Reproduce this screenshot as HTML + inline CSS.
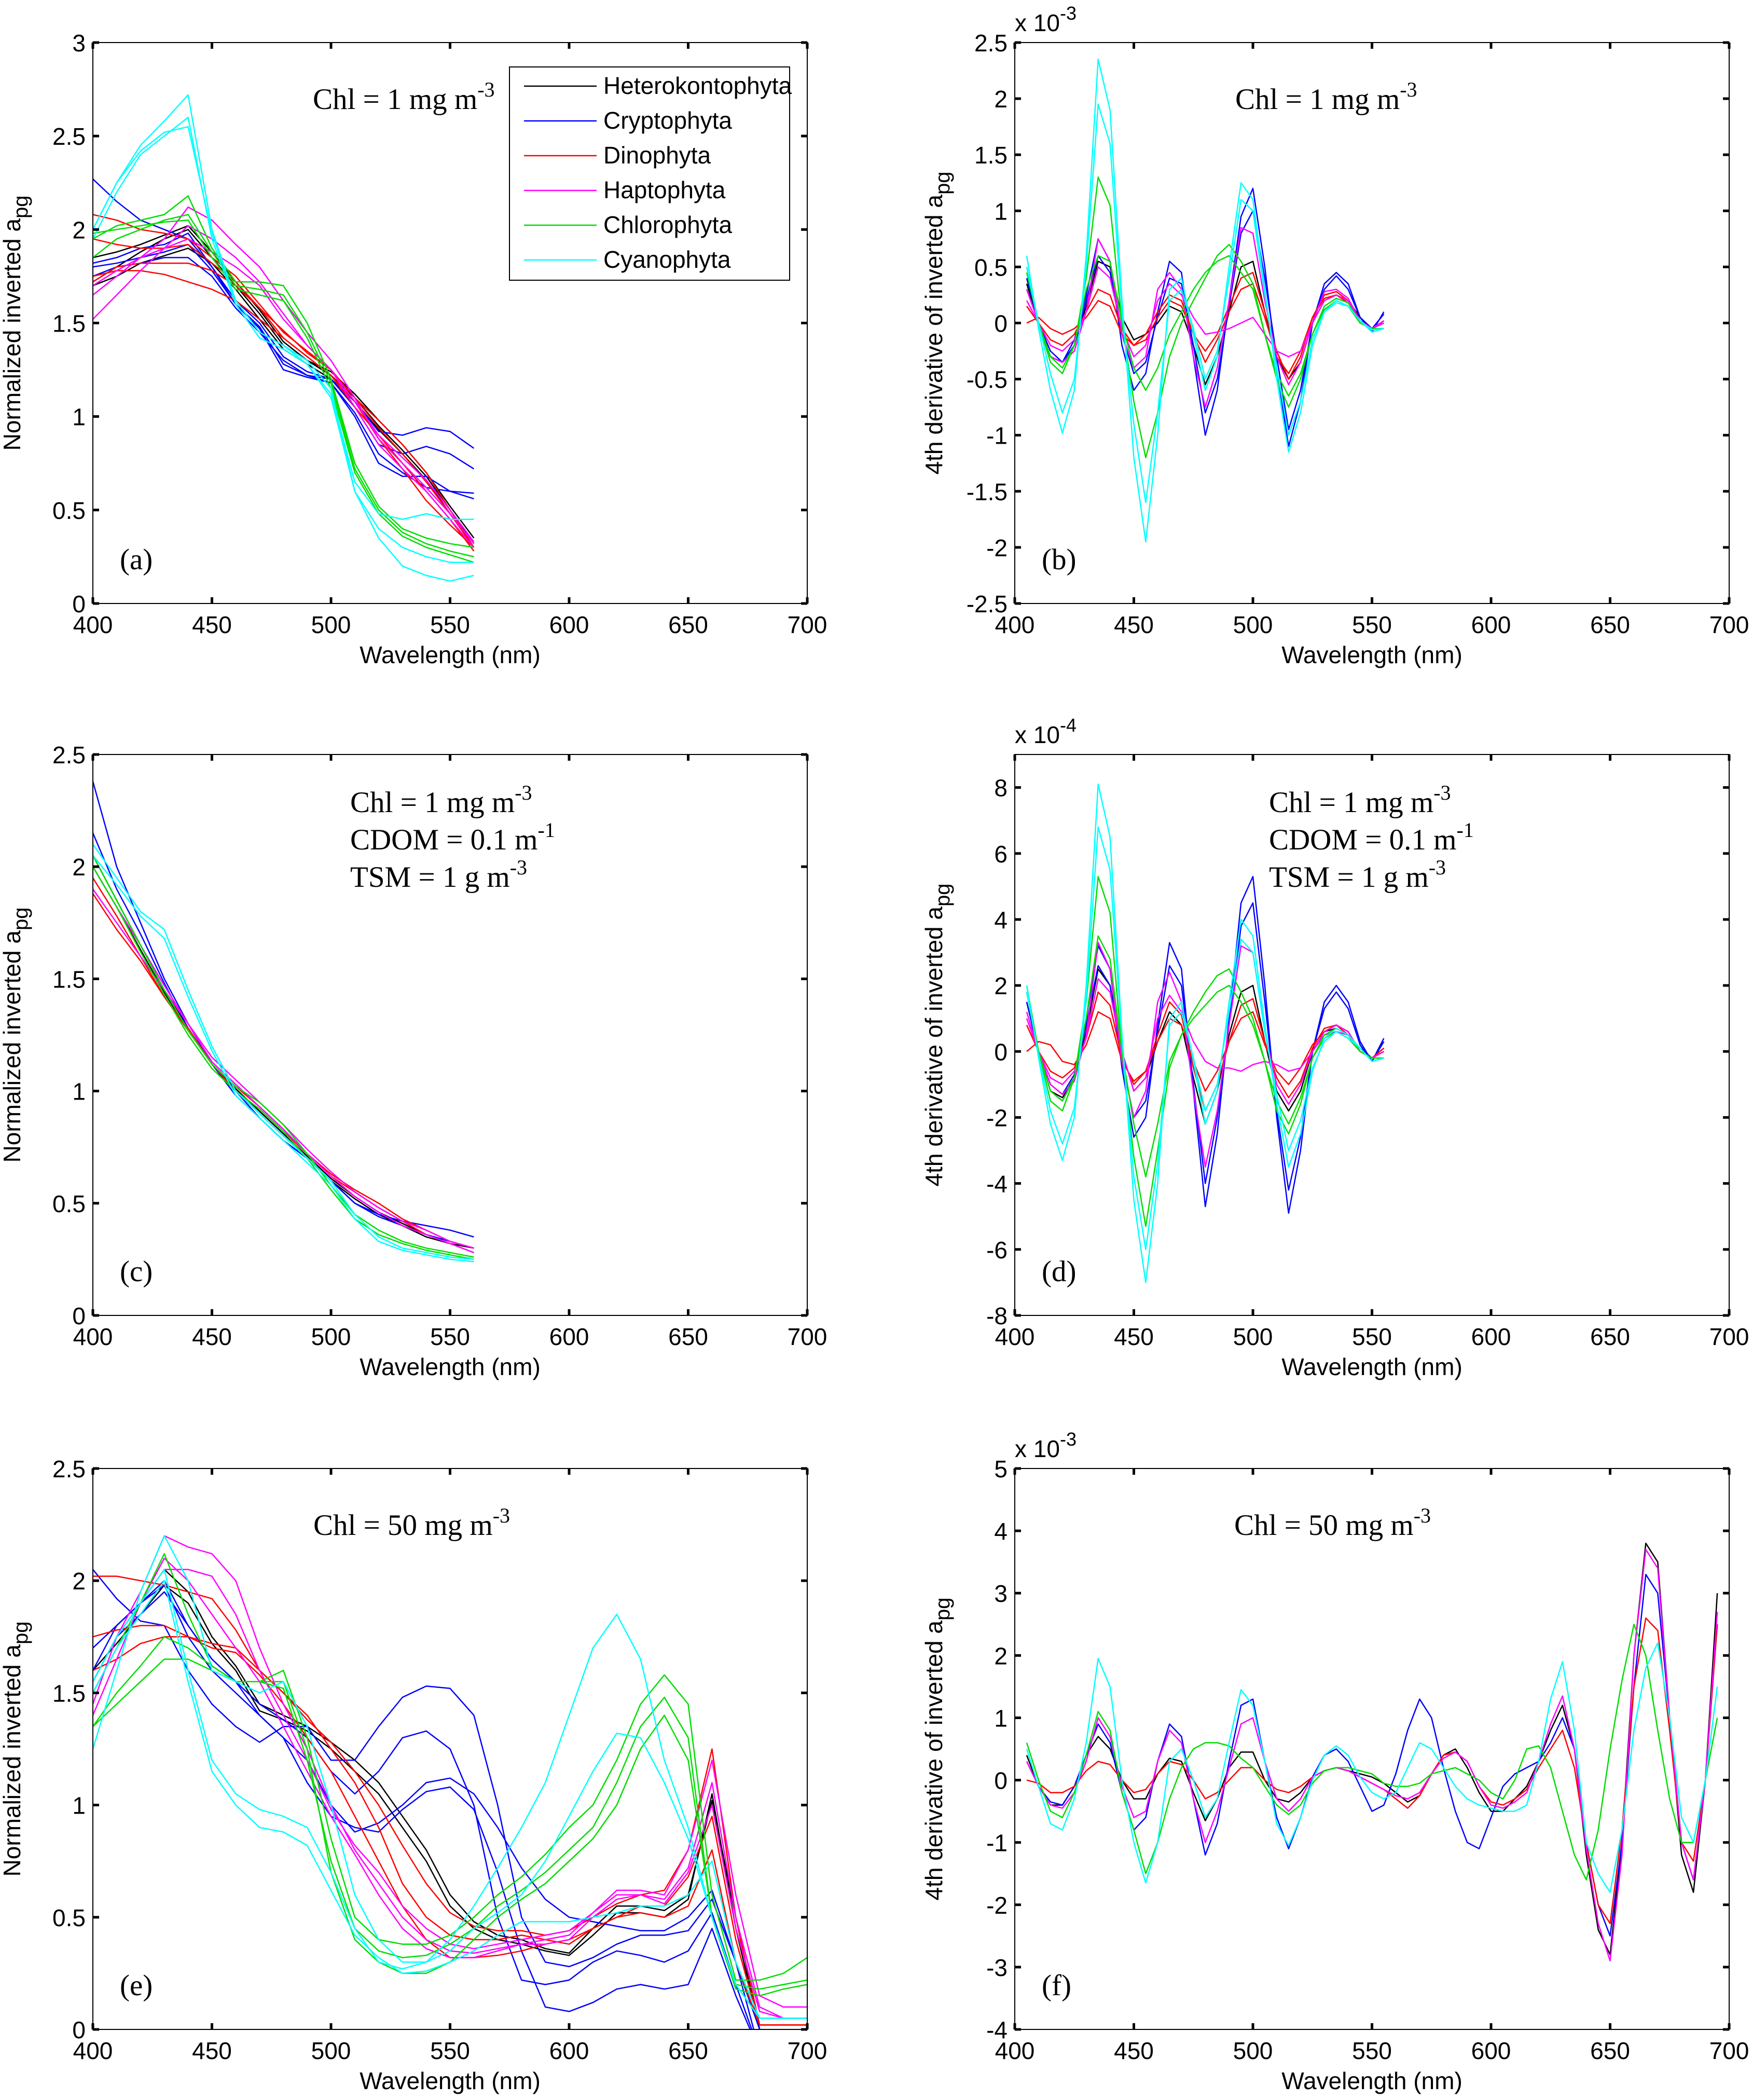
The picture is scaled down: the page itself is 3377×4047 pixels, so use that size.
<!DOCTYPE html>
<html><head><meta charset="utf-8">
<style>
html,body{margin:0;padding:0;background:#fff;}
svg{display:block;}
.tk{font-family:"Liberation Sans",Arial,sans-serif;font-size:46px;fill:#000;}
.tm{font-family:"Liberation Serif","Times New Roman",serif;font-size:57px;fill:#000;}
</style></head>
<body>
<svg id="fig" width="3377" height="4047" viewBox="0 0 3377 4047" xmlns="http://www.w3.org/2000/svg"></svg>
<script>
// ---------- data ----------
const colors = ['#000000','#0000ff','#ff0000','#ff00ff','#00dd00','#00ffff'];
const groups = ['Heterokontophyta','Cryptophyta','Dinophyta','Haptophyta','Chlorophyta','Cyanophyta'];

const wlA = [400,410,420,430,440,450,460,470,480,490,500,510,520,530,540,550,560];
const aBlack = [[1.72,1.8,1.88,1.95,2.0,1.85,1.7,1.55,1.38,1.3,1.22,1.1,0.95,0.82,0.68,0.5,0.32],[1.85,1.88,1.92,1.97,2.02,1.88,1.72,1.57,1.4,1.3,1.24,1.12,0.98,0.85,0.7,0.52,0.35],[1.7,1.75,1.82,1.86,1.9,1.82,1.68,1.52,1.36,1.28,1.2,1.08,0.93,0.8,0.66,0.48,0.3]];
const aBlue = [[2.27,2.15,2.05,2.0,1.95,1.8,1.62,1.5,1.32,1.24,1.2,1.08,0.92,0.9,0.94,0.92,0.83],[1.8,1.82,1.85,1.88,1.92,1.78,1.6,1.48,1.28,1.22,1.2,1.05,0.85,0.8,0.84,0.8,0.72],[1.75,1.8,1.82,1.85,1.85,1.75,1.58,1.45,1.3,1.22,1.18,1.02,0.8,0.7,0.62,0.6,0.59],[1.82,1.85,1.9,1.92,1.98,1.8,1.6,1.47,1.25,1.21,1.18,1.0,0.75,0.68,0.68,0.6,0.56]];
const aRed = [[2.08,2.05,2.0,1.98,1.95,1.85,1.75,1.6,1.45,1.35,1.25,1.1,0.98,0.85,0.7,0.5,0.3],[1.95,1.92,1.9,1.9,1.92,1.82,1.72,1.58,1.42,1.32,1.22,1.05,0.9,0.75,0.6,0.45,0.28],[1.75,1.78,1.78,1.76,1.72,1.68,1.62,1.52,1.42,1.32,1.22,1.08,0.88,0.72,0.55,0.42,0.3],[1.72,1.8,1.82,1.82,1.82,1.78,1.7,1.58,1.46,1.34,1.25,1.1,0.94,0.8,0.65,0.48,0.3]];
const aMag = [[1.52,1.65,1.78,1.9,2.02,1.95,1.85,1.72,1.55,1.38,1.25,1.05,0.85,0.72,0.6,0.45,0.3],[1.65,1.75,1.85,1.95,2.12,2.05,1.92,1.8,1.62,1.45,1.3,1.1,0.88,0.75,0.62,0.48,0.32],[1.7,1.78,1.85,1.9,1.95,1.88,1.8,1.7,1.52,1.38,1.25,1.08,0.9,0.78,0.66,0.5,0.33]];
const aGreen = [[1.95,2.02,2.05,2.08,2.18,1.9,1.72,1.72,1.7,1.5,1.2,0.75,0.52,0.4,0.35,0.32,0.3],[1.85,1.95,2.0,2.05,2.08,1.88,1.7,1.68,1.65,1.45,1.18,0.72,0.5,0.38,0.32,0.28,0.25],[1.98,2.0,2.02,2.04,2.05,1.85,1.68,1.65,1.62,1.42,1.15,0.7,0.48,0.36,0.3,0.26,0.22]];
const aCyan = [[2.0,2.25,2.45,2.58,2.72,2.0,1.62,1.45,1.38,1.3,1.15,0.6,0.35,0.2,0.15,0.12,0.15],[1.95,2.2,2.4,2.5,2.6,1.95,1.6,1.42,1.36,1.28,1.1,0.6,0.4,0.3,0.25,0.22,0.22],[2.0,2.25,2.42,2.52,2.55,1.98,1.62,1.45,1.38,1.28,1.12,0.65,0.48,0.45,0.48,0.45,0.45]];

const cBlack = [[2.05,1.85,1.65,1.45,1.28,1.12,1.0,0.9,0.8,0.7,0.6,0.52,0.45,0.4,0.35,0.32,0.3],[2.0,1.82,1.63,1.44,1.27,1.12,1.01,0.91,0.81,0.71,0.61,0.53,0.46,0.41,0.36,0.33,0.3]];
const cBlue = [[2.38,2.0,1.75,1.5,1.3,1.12,1.0,0.88,0.78,0.7,0.6,0.5,0.45,0.42,0.4,0.38,0.35],[2.15,1.9,1.7,1.48,1.28,1.12,0.98,0.88,0.78,0.7,0.6,0.5,0.44,0.4,0.36,0.33,0.3]];
const cRed = [[1.95,1.78,1.6,1.42,1.27,1.12,1.0,0.92,0.82,0.72,0.62,0.55,0.48,0.42,0.36,0.32,0.28],[1.88,1.72,1.58,1.42,1.28,1.12,1.02,0.93,0.83,0.72,0.63,0.56,0.5,0.43,0.38,0.33,0.3]];
const cMag = [[1.9,1.75,1.6,1.45,1.3,1.15,1.05,0.95,0.85,0.74,0.64,0.55,0.48,0.42,0.38,0.33,0.3],[2.0,1.82,1.65,1.47,1.3,1.13,1.03,0.93,0.83,0.72,0.62,0.53,0.46,0.4,0.36,0.32,0.28]];
const cGreen = [[2.05,1.85,1.65,1.45,1.27,1.12,1.02,0.95,0.85,0.72,0.58,0.45,0.38,0.33,0.3,0.28,0.26],[2.0,1.82,1.62,1.43,1.25,1.1,1.0,0.92,0.82,0.7,0.56,0.43,0.36,0.32,0.29,0.27,0.25]];
const cCyan = [[2.1,1.95,1.8,1.72,1.45,1.2,1.0,0.9,0.8,0.7,0.6,0.45,0.35,0.3,0.28,0.26,0.25],[2.05,1.92,1.78,1.68,1.42,1.18,0.98,0.88,0.78,0.68,0.58,0.43,0.33,0.29,0.27,0.25,0.24]];

const wlE = [400,410,420,430,440,450,460,470,480,490,500,510,520,530,540,550,560,570,580,590,600,610,620,630,640,650,660,670,680,690,700];
const eBlack = [[1.55,1.75,1.9,2.05,1.95,1.75,1.62,1.45,1.4,1.35,1.28,1.2,1.1,0.95,0.8,0.6,0.48,0.42,0.4,0.36,0.34,0.45,0.55,0.55,0.53,0.6,1.02,0.5,0.0,-0.1,-0.1],[1.6,1.72,1.85,1.98,1.9,1.72,1.6,1.42,1.38,1.33,1.25,1.15,1.05,0.9,0.75,0.55,0.45,0.4,0.38,0.35,0.33,0.42,0.52,0.52,0.5,0.58,1.05,0.45,0.0,-0.1,-0.1]];
const eBlue = [[2.05,1.92,1.82,1.8,1.6,1.45,1.35,1.28,1.35,1.35,1.2,1.2,1.35,1.48,1.53,1.52,1.4,1.0,0.5,0.3,0.28,0.32,0.38,0.42,0.42,0.44,0.58,0.3,-0.1,-0.1,-0.1],[1.55,1.75,1.85,1.95,1.8,1.65,1.55,1.45,1.38,1.3,1.15,1.05,1.15,1.3,1.33,1.25,1.0,0.5,0.22,0.2,0.22,0.3,0.35,0.33,0.3,0.35,0.52,0.2,-0.1,-0.1,-0.1],[1.6,1.8,1.9,2.0,1.8,1.65,1.55,1.4,1.3,1.1,0.95,0.9,0.88,0.98,1.06,1.08,0.98,0.7,0.35,0.1,0.08,0.12,0.18,0.2,0.18,0.2,0.45,0.15,-0.1,-0.1,-0.1],[1.7,1.8,1.9,1.98,1.75,1.6,1.5,1.4,1.3,1.2,1.0,0.88,0.92,1.0,1.1,1.12,1.05,0.9,0.72,0.58,0.5,0.48,0.46,0.44,0.44,0.5,0.62,0.3,0,-0.1,-0.1]];
const eRed = [[2.02,2.02,2.0,1.98,1.95,1.92,1.78,1.6,1.5,1.38,1.28,1.15,1.0,0.82,0.65,0.52,0.46,0.44,0.44,0.42,0.44,0.5,0.56,0.6,0.62,0.8,1.25,0.5,0.02,0.02,0.02],[1.75,1.78,1.8,1.8,1.75,1.7,1.68,1.58,1.45,1.3,1.15,0.95,0.75,0.55,0.4,0.32,0.32,0.33,0.35,0.38,0.4,0.45,0.5,0.52,0.5,0.55,0.8,0.3,0.02,0.02,0.02],[1.6,1.65,1.72,1.75,1.75,1.72,1.7,1.6,1.5,1.4,1.25,1.1,0.9,0.65,0.5,0.42,0.4,0.4,0.42,0.4,0.38,0.45,0.5,0.55,0.55,0.68,0.95,0.4,0.02,0.02,0.02]];
const eMag = [[1.45,1.75,1.95,2.2,2.15,2.12,2.0,1.7,1.45,1.25,1.0,0.8,0.65,0.5,0.4,0.35,0.34,0.36,0.38,0.4,0.42,0.52,0.62,0.62,0.6,0.8,1.2,0.6,0.15,0.1,0.1],[1.5,1.7,1.9,2.1,2.0,1.85,1.7,1.55,1.35,1.15,0.95,0.78,0.6,0.45,0.36,0.32,0.32,0.35,0.38,0.38,0.4,0.5,0.58,0.6,0.58,0.72,1.1,0.5,0.1,0.05,0.05],[1.4,1.65,1.9,2.05,2.05,2.02,1.85,1.6,1.4,1.2,0.98,0.82,0.7,0.55,0.45,0.38,0.36,0.38,0.4,0.42,0.44,0.52,0.6,0.6,0.56,0.7,1.0,0.45,0.08,0.05,0.05]];
const eGreen = [[1.35,1.5,1.62,1.75,1.7,1.62,1.55,1.55,1.6,1.3,0.85,0.5,0.4,0.38,0.38,0.42,0.5,0.6,0.68,0.78,0.9,1.0,1.2,1.45,1.58,1.45,0.6,0.22,0.22,0.25,0.32],[1.5,1.7,1.9,2.12,1.85,1.62,1.55,1.55,1.52,1.2,0.75,0.45,0.35,0.32,0.33,0.38,0.45,0.55,0.62,0.7,0.8,0.9,1.1,1.35,1.48,1.3,0.5,0.2,0.18,0.2,0.22],[1.35,1.45,1.55,1.65,1.65,1.6,1.55,1.55,1.55,1.25,0.7,0.4,0.3,0.25,0.25,0.3,0.4,0.5,0.58,0.65,0.75,0.85,1.0,1.25,1.4,1.2,0.5,0.18,0.15,0.18,0.2]];
const eCyan = [[1.25,1.6,1.95,2.2,2.0,1.6,1.55,1.5,1.55,1.35,1.0,0.6,0.4,0.3,0.3,0.4,0.55,0.72,0.9,1.1,1.4,1.7,1.85,1.65,1.2,0.9,0.5,0.2,0.05,0.05,0.05],[1.55,1.75,1.9,2.05,1.6,1.2,1.05,0.98,0.95,0.9,0.7,0.45,0.3,0.27,0.3,0.35,0.45,0.52,0.6,0.75,0.95,1.15,1.32,1.3,1.1,0.85,0.5,0.2,0.05,0.05,0.05],[1.5,1.7,1.85,2.0,1.55,1.15,1.0,0.9,0.88,0.82,0.62,0.42,0.32,0.25,0.26,0.3,0.35,0.42,0.48,0.48,0.48,0.5,0.52,0.55,0.55,0.6,0.75,0.3,0.05,0.05,0.05]];

const wlB = [405,410,415,420,425,430,435,440,445,450,455,460,465,470,475,480,485,490,495,500,505,510,515,520,525,530,535,540,545,550,555];
const bBlack = [[0.35,0,-0.3,-0.35,-0.2,0.15,0.55,0.5,0.05,-0.15,-0.1,0.0,0.15,0.1,-0.2,-0.55,-0.3,0.1,0.5,0.55,0.1,-0.3,-0.5,-0.35,0.0,0.2,0.25,0.2,0.05,-0.05,0.0]];
const bBlue = [[0.4,0,-0.25,-0.35,-0.15,0.25,0.75,0.55,-0.2,-0.6,-0.45,0.1,0.55,0.45,-0.3,-1.0,-0.6,0.2,0.95,1.2,0.5,-0.4,-1.1,-0.7,0.0,0.35,0.45,0.35,0.05,-0.08,0.1],[0.3,0,-0.3,-0.35,-0.2,0.2,0.6,0.45,-0.1,-0.45,-0.35,0.05,0.4,0.35,-0.2,-0.8,-0.5,0.15,0.8,1.0,0.4,-0.3,-0.95,-0.6,0.0,0.3,0.42,0.3,0.05,-0.05,0.08]];
const bRed = [[0.0,0.05,-0.05,-0.1,-0.05,0.05,0.2,0.15,-0.1,-0.2,-0.15,0.05,0.2,0.15,-0.1,-0.35,-0.15,0.1,0.3,0.35,0.05,-0.3,-0.45,-0.25,0.05,0.22,0.25,0.18,0.02,-0.05,0.02],[0.15,0,-0.15,-0.2,-0.1,0.1,0.3,0.25,-0.05,-0.2,-0.1,0.1,0.25,0.2,-0.1,-0.25,-0.1,0.15,0.4,0.45,0.1,-0.25,-0.5,-0.3,0.05,0.25,0.28,0.2,0.02,-0.05,0.02]];
const bMag = [[0.3,0,-0.3,-0.35,-0.25,0.1,0.75,0.55,-0.1,-0.4,-0.3,0.3,0.45,0.3,-0.3,-0.75,-0.4,0.2,0.85,0.8,0.2,-0.3,-0.55,-0.35,0.0,0.28,0.3,0.22,0.02,-0.05,0.02],[0.2,0,-0.2,-0.25,-0.15,0.1,0.5,0.4,-0.05,-0.3,-0.2,0.2,0.35,0.25,0.05,-0.1,-0.08,-0.05,0.0,0.05,-0.1,-0.25,-0.3,-0.25,0.0,0.2,0.25,0.2,0.02,-0.05,0.0]];
const bGreen = [[0.5,0,-0.35,-0.45,-0.2,0.4,1.3,1.05,0.0,-0.7,-1.2,-0.8,-0.3,0.0,0.2,0.4,0.6,0.7,0.55,0.35,-0.1,-0.5,-0.75,-0.5,-0.1,0.15,0.22,0.18,0.0,-0.05,-0.05],[0.45,0,-0.3,-0.4,-0.2,0.3,0.6,0.55,0.0,-0.4,-0.6,-0.4,-0.1,0.1,0.3,0.45,0.55,0.6,0.45,0.3,-0.1,-0.45,-0.65,-0.45,-0.1,0.12,0.2,0.15,0.0,-0.05,-0.05]];
const bCyan = [[0.6,-0.05,-0.6,-0.98,-0.6,0.6,2.35,1.9,0.2,-1.2,-1.95,-1.0,0.3,0.4,-0.1,-0.6,-0.3,0.5,1.25,1.1,0.3,-0.5,-1.15,-0.8,-0.2,0.1,0.2,0.15,0.02,-0.08,-0.05],[0.5,0,-0.45,-0.8,-0.5,0.5,1.95,1.6,0.1,-0.9,-1.6,-0.8,0.2,0.3,-0.05,-0.5,-0.25,0.4,1.1,1.0,0.25,-0.4,-1.0,-0.7,-0.15,0.1,0.18,0.15,0.02,-0.06,-0.05]];

const dBlack = [[1.5,0,-1.2,-1.4,-0.8,0.6,2.5,2.0,0,-1.2,-0.8,0.3,1.2,0.8,-0.8,-2.2,-1.2,0.5,1.8,2.0,0.3,-1.2,-1.8,-1.2,0.0,0.6,0.7,0.5,0.1,-0.2,0.0]];
const dBlue = [[1.8,0,-1.2,-1.5,-0.8,1.0,3.2,2.5,-0.5,-2.6,-2.0,0.8,3.3,2.5,-1.2,-4.7,-2.5,1.0,4.5,5.3,2.0,-2.0,-4.9,-3.0,0.0,1.5,2.0,1.5,0.3,-0.3,0.4],[1.5,0,-1.0,-1.3,-0.7,0.8,2.6,2.0,-0.3,-2.0,-1.5,0.6,2.6,2.0,-1.0,-4.0,-2.0,0.8,3.8,4.5,1.5,-1.8,-4.2,-2.6,0,1.3,1.8,1.3,0.2,-0.3,0.3]];
const dRed = [[0.0,0.3,0.2,-0.3,-0.4,0.2,1.2,1.0,-0.3,-0.9,-0.6,0.3,1.0,0.8,-0.3,-1.2,-0.6,0.3,1.0,1.2,0.2,-0.6,-1.0,-0.5,0.2,0.6,0.8,0.6,0.0,-0.2,0.1],[0.8,0,-0.6,-0.8,-0.5,0.4,1.8,1.4,-0.2,-1.0,-0.6,0.5,1.5,1.1,-0.5,-1.8,-1.0,0.3,1.4,1.6,0.3,-0.8,-1.4,-0.9,0.1,0.7,0.8,0.5,0.0,-0.2,0.1]];
const dMag = [[1.2,0,-1.0,-1.3,-0.9,0.5,3.3,2.5,-0.3,-2.0,-1.2,1.5,2.4,1.5,-1.2,-3.5,-1.8,0.8,3.2,3.0,0.6,-1.0,-1.6,-1.0,0.0,0.6,0.8,0.6,0.0,-0.2,0.0],[1.0,0,-0.8,-1.0,-0.6,0.4,2.2,1.8,0,-1.2,-0.8,1.0,1.7,1.2,0.3,-0.3,-0.5,-0.5,-0.6,-0.4,-0.3,-0.4,-0.6,-0.5,0,0.5,0.6,0.5,0,-0.2,0.0]];
const dGreen = [[2.0,0,-1.5,-1.8,-0.8,1.5,5.3,4.2,0,-3.2,-5.3,-3.0,-0.5,0.5,1.2,1.8,2.3,2.5,1.8,1.0,-0.3,-1.8,-2.5,-1.6,-0.2,0.5,0.7,0.5,0,-0.2,-0.2],[1.8,0,-1.2,-1.5,-0.8,1.0,3.5,2.8,0,-2.2,-3.8,-2.2,-0.3,0.5,1.0,1.4,1.8,2.0,1.5,0.8,-0.3,-1.5,-2.2,-1.4,-0.2,0.4,0.6,0.4,0,-0.2,-0.2]];
const dCyan = [[2.0,-0.2,-2.2,-3.3,-2.0,2.0,8.1,6.5,0.5,-4.5,-7.0,-4.0,1.0,1.5,-0.3,-2.2,-1.2,1.5,4.0,3.5,0.8,-1.6,-3.5,-2.5,-0.6,0.4,0.7,0.5,0.1,-0.3,-0.2],[1.8,-0.1,-1.8,-2.8,-1.7,1.6,6.8,5.5,0.4,-3.8,-6.0,-3.4,0.8,1.2,-0.2,-1.8,-1.0,1.2,3.4,3.0,0.6,-1.3,-3.0,-2.1,-0.5,0.3,0.6,0.4,0.1,-0.3,-0.2]];

const wlF = [405,410,415,420,425,430,435,440,445,450,455,460,465,470,475,480,485,490,495,500,505,510,515,520,525,530,535,540,545,550,555,560,565,570,575,580,585,590,595,600,605,610,615,620,625,630,635,640,645,650,655,660,665,670,675,680,685,690,695];
const fBlack = [[0.4,-0.1,-0.4,-0.4,-0.1,0.4,0.7,0.5,0.0,-0.3,-0.3,0.1,0.35,0.3,-0.2,-0.65,-0.3,0.2,0.45,0.45,0.0,-0.3,-0.35,-0.2,0.05,0.15,0.2,0.15,0.1,0.05,-0.05,-0.2,-0.35,-0.25,0.1,0.4,0.5,0.2,-0.2,-0.5,-0.5,-0.3,-0.1,0.3,0.8,1.2,0.5,-1.2,-2.4,-2.8,-1.0,2.0,3.8,3.5,1.0,-1.2,-1.8,0.0,3.0]];
const fBlue = [[0.3,-0.1,-0.35,-0.4,-0.1,0.4,0.9,0.6,-0.2,-0.8,-0.6,0.3,0.9,0.7,-0.3,-1.2,-0.7,0.3,1.2,1.3,0.3,-0.6,-1.1,-0.6,0.05,0.4,0.5,0.3,-0.1,-0.5,-0.4,0.1,0.8,1.3,1.0,0.2,-0.5,-1.0,-1.1,-0.6,-0.1,0.1,0.2,0.3,0.6,1.0,0.5,-1.0,-2.0,-2.5,-1.0,1.5,3.3,3.0,1.0,-1.0,-1.6,0.0,2.5]];
const fRed = [[0.0,-0.05,-0.2,-0.2,-0.1,0.15,0.3,0.25,0.0,-0.2,-0.15,0.1,0.3,0.25,0.0,-0.3,-0.2,0.0,0.2,0.2,0.0,-0.15,-0.2,-0.1,0.05,0.15,0.2,0.15,0.05,-0.05,-0.15,-0.3,-0.45,-0.25,0.1,0.4,0.45,0.3,-0.1,-0.35,-0.4,-0.3,-0.15,0.2,0.5,0.8,0.2,-1.0,-2.0,-2.3,-0.8,1.5,2.6,2.4,0.8,-1.0,-1.3,0.0,2.5]];
const fMag = [[0.3,-0.1,-0.4,-0.45,-0.2,0.3,1.0,0.7,-0.1,-0.6,-0.5,0.3,0.8,0.6,-0.3,-1.0,-0.5,0.2,0.9,1.0,0.3,-0.3,-0.5,-0.3,0.05,0.15,0.2,0.15,0.05,-0.05,-0.15,-0.25,-0.3,-0.2,0.1,0.35,0.45,0.3,-0.1,-0.4,-0.45,-0.35,-0.2,0.3,0.9,1.35,0.5,-1.1,-2.3,-2.9,-1.2,2.0,3.7,3.4,1.0,-1.0,-1.6,0.0,2.7]];
const fGreen = [[0.6,0.0,-0.5,-0.6,-0.2,0.4,1.1,0.8,-0.2,-0.8,-1.5,-1.0,-0.3,0.2,0.5,0.6,0.6,0.55,0.35,0.2,-0.1,-0.4,-0.55,-0.4,-0.05,0.15,0.2,0.2,0.15,0.1,-0.05,-0.1,-0.1,-0.05,0.1,0.15,0.2,0.1,0.0,-0.2,-0.3,0.0,0.5,0.55,0.2,-0.5,-1.2,-1.6,-0.8,0.5,1.6,2.5,2.0,0.8,-0.3,-1.0,-1.0,0.0,1.0]];
const fCyan = [[0.5,-0.1,-0.7,-0.8,-0.3,0.6,1.95,1.5,0.0,-1.0,-1.65,-1.0,0.3,0.5,0.0,-0.6,-0.3,0.6,1.45,1.2,0.3,-0.7,-1.05,-0.6,0.0,0.4,0.55,0.4,0.05,-0.2,-0.3,-0.2,0.2,0.6,0.5,0.2,-0.1,-0.3,-0.4,-0.45,-0.5,-0.5,-0.4,0.3,1.3,1.9,0.8,-1.0,-1.5,-1.8,-0.8,0.8,1.8,2.2,1.0,-0.6,-1.0,0.0,1.5]];

const xTicks = [400,450,500,550,600,650,700];
const yTicksA = [0,0.5,1,1.5,2,2.5,3];
const yTicksC = [0,0.5,1,1.5,2,2.5];
const yTicksB = [-2.5,-2,-1.5,-1,-0.5,0,0.5,1,1.5,2,2.5];
const yTicksD = [-8,-6,-4,-2,0,2,4,6,8];
const yTicksF = [-4,-3,-2,-1,0,1,2,3,4,5];

// ---------- drawing ----------
const NS = 'http://www.w3.org/2000/svg';
const svg = document.getElementById('fig');
function mk(tag, attrs, parent){ const e=document.createElementNS(NS,tag); for(const k in attrs) e.setAttribute(k,attrs[k]); (parent||svg).appendChild(e); return e; }

const W=1377, H=1081;
const panels = [
 {id:'a', x0:179, y0:82, ymin:0, ymax:3, yt:yTicksA, wl:wlA, series:[aBlack,aBlue,aRed,aMag,aGreen,aCyan], title:'Normalized inverted a'},
 {id:'b', x0:1956, y0:82, ymin:-2.5, ymax:2.5, yt:yTicksB, wl:wlB, series:[bBlack,bBlue,bRed,bMag,bGreen,bCyan], title:'4th derivative of inverted a', exp:'-3'},
 {id:'c', x0:179, y0:1454, ymin:0, ymax:2.5, yt:yTicksC, wl:wlA, series:[cBlack,cBlue,cRed,cMag,cGreen,cCyan], title:'Normalized inverted a'},
 {id:'d', x0:1956, y0:1454, ymin:-8, ymax:9, yt:yTicksD, wl:wlB, series:[dBlack,dBlue,dRed,dMag,dGreen,dCyan], title:'4th derivative of inverted a', exp:'-4'},
 {id:'e', x0:179, y0:2830, ymin:0, ymax:2.5, yt:yTicksC, wl:wlE, series:[eBlack,eBlue,eRed,eMag,eGreen,eCyan], title:'Normalized inverted a'},
 {id:'f', x0:1956, y0:2830, ymin:-4, ymax:5, yt:yTicksF, wl:wlF, series:[fBlack,fBlue,fRed,fMag,fGreen,fCyan], title:'4th derivative of inverted a', exp:'-3'}
];

const annots = {
 a:[['Chl = 1 mg m','-3']], b:[['Chl = 1 mg m','-3']],
 c:[['Chl = 1 mg m','-3'],['CDOM = 0.1 m','-1'],['TSM = 1 g m','-3']],
 d:[['Chl = 1 mg m','-3'],['CDOM = 0.1 m','-1'],['TSM = 1 g m','-3']],
 e:[['Chl = 50 mg m','-3']], f:[['Chl = 50 mg m','-3']]
};
const annX = {a:603,b:2381,c:675,d:2446,e:604,f:2379};

panels.forEach(p=>{
  const g = mk('g',{});
  
  
  const sx = v => p.x0 + (v-400)/300*W;
  const sy = v => p.y0 + (p.ymax - v)/(p.ymax-p.ymin)*H;
  const cp = mk('clipPath',{id:'clip-'+p.id},g);
  mk('rect',{x:p.x0,y:p.y0,width:W,height:H},cp);
  const lines = mk('g',{'clip-path':'url(#clip-'+p.id+')'},g);
  
  
  p.series.forEach((grp,gi)=>{
    grp.forEach((vals,ci)=>{
      const pts = vals.map((v,i)=> sx(p.wl[i]).toFixed(1)+','+sy(v).toFixed(1)).join(' ');
      const pl = mk('polyline',{points:pts,fill:'none',stroke:colors[gi],'stroke-width':2.5,'stroke-linejoin':'round'},lines);
      
      
    });
  });
  const fr = mk('rect',{x:p.x0,y:p.y0,width:W,height:H,fill:'none',stroke:'#000','stroke-width':2},g);
  
  
  xTicks.forEach(t=>{
    const x=sx(t);
    mk('line',{x1:x,y1:p.y0+H,x2:x,y2:p.y0+H-12,stroke:'#000','stroke-width':5},g);
    mk('line',{x1:x,y1:p.y0,x2:x,y2:p.y0+12,stroke:'#000','stroke-width':5},g);
    const tx = mk('text',{x:x,y:p.y0+H+57,'text-anchor':'middle',class:'tk'},g);
    tx.textContent=t;
    
    
  });
  p.yt.forEach(t=>{
    const y=sy(t);
    mk('line',{x1:p.x0,y1:y,x2:p.x0+12,y2:y,stroke:'#000','stroke-width':5},g);
    mk('line',{x1:p.x0+W,y1:y,x2:p.x0+W-12,y2:y,stroke:'#000','stroke-width':5},g);
    const ty = mk('text',{x:p.x0-14,y:y+17,'text-anchor':'end',class:'tk'},g);
    ty.textContent=t;
    
    
  });
  const xt = mk('text',{x:p.x0+W/2,y:p.y0+H+115,'text-anchor':'middle',class:'tk'},g);
  xt.textContent='Wavelength (nm)';
  
  
  const cx = p.x0-140, cy = p.y0+H/2;
  const yt = mk('text',{x:cx,y:cy,'text-anchor':'middle',class:'tk',transform:'rotate(-90 '+cx+' '+cy+')'},g);
  
  
  yt.appendChild(document.createTextNode(p.title));
  const sub = mk('tspan',{dy:14,'font-size':'40'},yt); sub.textContent='pg';
  if(p.exp){
    const ex = mk('text',{x:p.x0,y:p.y0-22,class:'tk'},g);
    
    
    ex.appendChild(document.createTextNode('x 10'));
    const sp = mk('tspan',{dy:-22,'font-size':'36'},ex); sp.textContent=p.exp;
  }
  annots[p.id].forEach((a,i)=>{
    const an = mk('text',{x:annX[p.id],y:(p.id==='c'||p.id==='d')? p.y0+111+i*72 : p.y0+128,class:'tm'},g);
    
    
    an.appendChild(document.createTextNode(a[0]));
    const s = mk('tspan',{dy:-24,'font-size':'40'},an); s.textContent=a[1];
  });
  const lab = mk('text',{x:p.x0+52,y:p.y0+H-66,class:'tm'},g);
  lab.textContent='('+p.id+')';
  
  
});

const lg = mk('g',{});


mk('rect',{x:982,y:129,width:540,height:411,fill:'#fff',stroke:'#000','stroke-width':2},lg);
groups.forEach((name,i)=>{
  const y = 166 + i*67;
  const ln = mk('line',{x1:1010,y1:y,x2:1150,y2:y,stroke:colors[i],'stroke-width':2.5},lg);
  
  
  const t = mk('text',{x:1163,y:y+15,class:'tk','font-size':'41'},lg);
  t.textContent=name;
  
  
});
</script>
</body></html>
